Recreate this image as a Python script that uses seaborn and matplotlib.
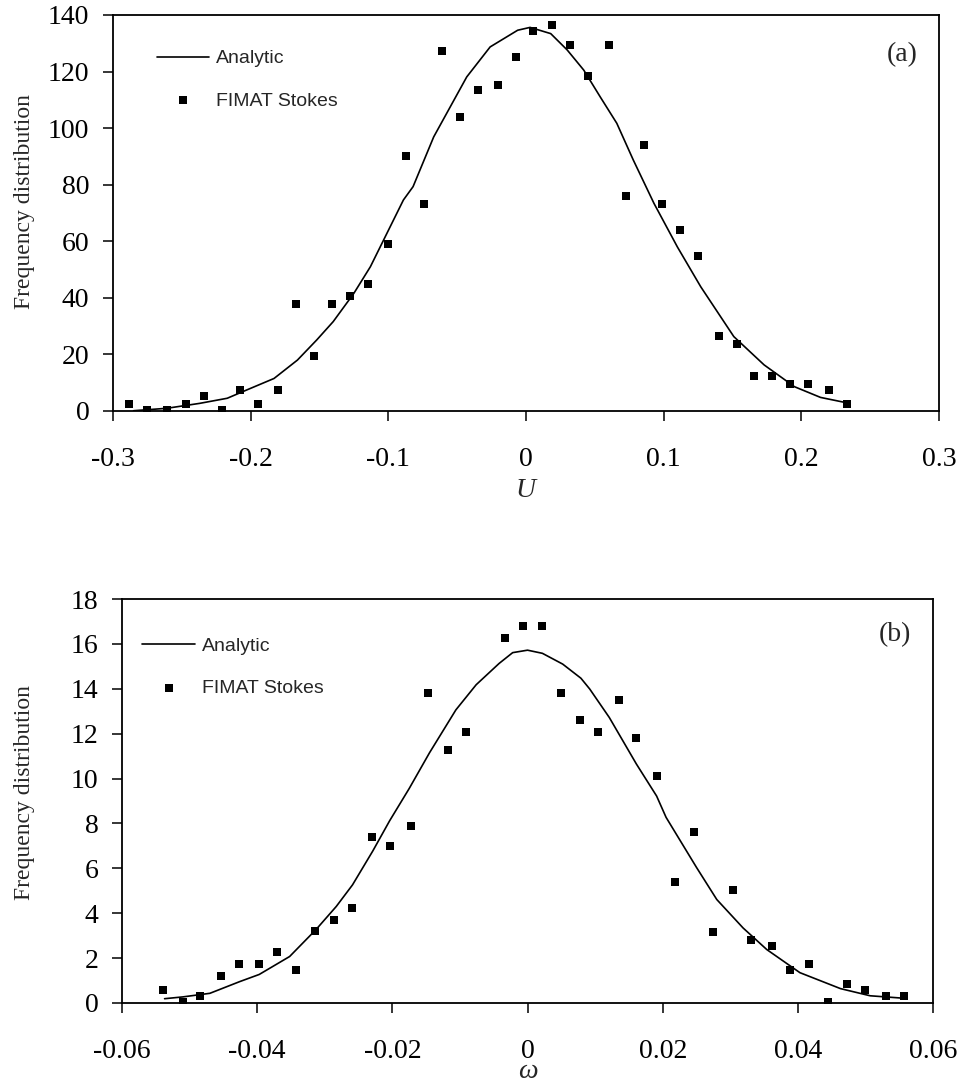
import matplotlib
matplotlib.use("Agg")
import matplotlib.pyplot as plt
import seaborn as sns

# ---------------- data: panel (a) ----------------
u_pts = [-0.288, -0.275, -0.261, -0.247, -0.234, -0.221, -0.208, -0.195, -0.180, -0.167,
         -0.154, -0.141, -0.128, -0.115, -0.100, -0.087, -0.074, -0.061, -0.048, -0.035,
         -0.020, -0.007, 0.005, 0.019, 0.032, 0.045, 0.060, 0.073, 0.086, 0.099,
         0.112, 0.125, 0.140, 0.153, 0.166, 0.179, 0.192, 0.205, 0.220, 0.233]
u_freq = [2.4, 0.4, 0.4, 2.4, 5.2, 0.4, 7.3, 2.4, 7.3, 37.7,
          19.3, 37.7, 40.6, 44.8, 58.9, 90.0, 73.0, 127.4, 104.1, 113.3,
          115.4, 125.3, 134.4, 136.6, 129.5, 118.3, 129.5, 75.9, 94.2, 73.0,
          63.9, 54.7, 26.4, 23.6, 12.3, 12.3, 9.4, 9.4, 7.3, 2.4]
u_an = [-0.285, -0.261, -0.237, -0.217, -0.203, -0.183, -0.166, -0.152, -0.140, -0.125,
        -0.113, -0.101, -0.089, -0.082, -0.067, -0.055, -0.043, -0.026, -0.006, 0.003,
        0.018, 0.030, 0.042, 0.054, 0.066, 0.078, 0.093, 0.110, 0.127, 0.151,
        0.173, 0.195, 0.214, 0.233]
u_an_freq = [0.1, 0.95, 2.7, 4.5, 7.4, 11.5, 18.0, 25.1, 31.6, 41.6,
             51.0, 62.8, 74.6, 79.3, 96.9, 107.5, 118.1, 128.7, 134.6, 135.6,
             133.4, 127.6, 120.5, 111.0, 101.7, 88.7, 73.4, 58.0, 43.9, 26.3,
             16.3, 8.6, 4.8, 2.9]
u_ticks = [-0.3, -0.2, -0.1, 0.0, 0.1, 0.2, 0.3]
u_ticklabels = ["-0.3", "-0.2", "-0.1", "0", "0.1", "0.2", "0.3"]
u_yticks = [0, 20, 40, 60, 80, 100, 120, 140]

# ---------------- data: panel (b) ----------------
w_pts = [-0.0540, -0.0510, -0.0484, -0.0454, -0.0427, -0.0398, -0.0371, -0.0342, -0.0315, -0.0286,
         -0.0259, -0.0230, -0.0203, -0.0173, -0.0147, -0.0117, -0.0091, -0.0034, -0.0007, 0.0022,
         0.0049, 0.0078, 0.0105, 0.0135, 0.0161, 0.0191, 0.0218, 0.0247, 0.0275, 0.0304,
         0.0331, 0.0361, 0.0388, 0.0417, 0.0444, 0.0473, 0.0500, 0.0530, 0.0557]
w_freq = [0.59, 0.06, 0.32, 1.21, 1.75, 1.75, 2.28, 1.48, 3.19, 3.71,
          4.25, 7.38, 7.01, 7.90, 13.81, 11.29, 12.09, 16.28, 16.80, 16.79,
          13.79, 12.61, 12.07, 13.50, 11.81, 10.11, 5.39, 7.62, 3.16, 5.04,
          2.81, 2.54, 1.48, 1.75, 0.05, 0.86, 0.57, 0.32, 0.32]
w_an = [-0.0537, -0.0510, -0.0470, -0.0426, -0.0397, -0.0352, -0.0313, -0.0283, -0.0259, -0.0229,
        -0.0204, -0.0175, -0.0145, -0.0106, -0.0076, -0.0042, -0.0022, 0.0, 0.0022, 0.0052,
        0.0079, 0.0092, 0.0121, 0.0161, 0.0191, 0.0205, 0.0250, 0.0280, 0.0319, 0.0354,
        0.0403, 0.0463, 0.0507, 0.0557]
w_an_freq = [0.19, 0.27, 0.43, 0.95, 1.27, 2.07, 3.27, 4.30, 5.26, 6.77,
             8.12, 9.56, 11.15, 13.06, 14.18, 15.13, 15.61, 15.72, 15.58, 15.10,
             14.47, 13.99, 12.72, 10.65, 9.22, 8.27, 6.04, 4.61, 3.34, 2.38,
             1.35, 0.64, 0.32, 0.21]
w_ticks = [-0.06, -0.04, -0.02, 0.0, 0.02, 0.04, 0.06]
w_ticklabels = ["-0.06", "-0.04", "-0.02", "0", "0.02", "0.04", "0.06"]
w_yticks = [0, 2, 4, 6, 8, 10, 12, 14, 16, 18]

line_label = "Analytic"
pts_label = "FIMAT Stokes"
ylabel = "Frequency distribution"

sns.set_style("ticks")
plt.rcParams["font.family"] = ["Liberation Serif", "DejaVu Serif"]
plt.rcParams["axes.edgecolor"] = "black"

fig = plt.figure(figsize=(9.63, 10.83), dpi=100)
ax1 = fig.add_axes([0.1173, 0.6205, 0.8577, 0.3657])
ax2 = fig.add_axes([0.1267, 0.0739, 0.8422, 0.3730])

SERIF = "Liberation Serif"
SANS = "Liberation Sans"


def draw(ax, xa, ya, xp, yp, xticks, xticklabels, yticks, xlim, ylim,
         xlabel, panel, leg_anchor, panel_xy, xlabel_y, ylabel_xy):
    sns.lineplot(x=xa, y=ya, ax=ax, color="black", linewidth=1.2,
                 label=line_label, sort=False, estimator=None)
    sns.scatterplot(x=xp, y=yp, ax=ax, color="black", marker="s", s=34,
                    linewidth=0, label=pts_label)
    ax.set_xlim(*xlim)
    ax.set_ylim(*ylim)
    ax.set_xticks(xticks)
    ax.set_xticklabels(xticklabels, fontsize=20, family=SERIF)
    ax.set_yticks(yticks)
    ax.set_yticklabels([str(v) for v in yticks], fontsize=20, family=SERIF)
    ax.tick_params(axis="x", direction="out", length=7, width=1.1, pad=19,
                   colors="black", top=False)
    ax.tick_params(axis="y", direction="out", length=7, width=1.1, pad=10,
                   colors="black", right=False)
    for sp in ax.spines.values():
        sp.set_visible(True)
        sp.set_linewidth(1.3)
        sp.set_color("black")
    ax.set_xlabel(xlabel, fontsize=20, family=SERIF, style="italic", va="top")
    ax.xaxis.set_label_coords(0.5, xlabel_y)
    ax.set_ylabel(ylabel, fontsize=17, family=SERIF)
    ax.yaxis.set_label_coords(*ylabel_xy)
    ax.legend(loc="upper left", bbox_to_anchor=leg_anchor, frameon=False,
              prop={"family": SANS, "size": 14}, borderpad=0,
              borderaxespad=0, handlelength=2.7, handletextpad=0.35,
              labelspacing=1.26)
    ax.text(panel_xy[0], panel_xy[1], panel, transform=ax.transAxes,
            fontsize=20, family=SERIF, ha="center", va="center")


draw(ax1, u_an, u_an_freq, u_pts, u_freq, u_ticks, u_ticklabels, u_yticks,
     (-0.3, 0.3), (0, 140), "U", "(a)", (0.053, 0.912), (0.955, 0.90),
     -0.17, (-0.094, 0.53))
draw(ax2, w_an, w_an_freq, w_pts, w_freq, w_ticks, w_ticklabels, w_yticks,
     (-0.06, 0.06), (0, 18), "\u03c9", "(b)", (0.025, 0.906), (0.953, 0.912),
     -0.138, (-0.107, 0.52))

fig.savefig("out.png", dpi=100)
